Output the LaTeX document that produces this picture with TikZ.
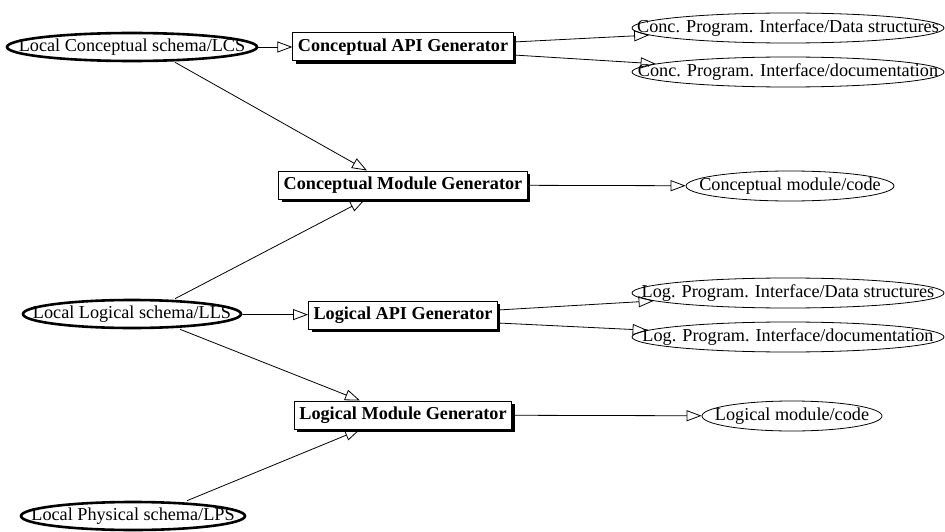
\documentclass[tikz,border=0pt]{standalone}
\usepackage{fontspec}
\setmainfont{Liberation Serif}
\usetikzlibrary{shapes.geometric,arrows.meta,shadows,calc}
\begin{document}
\begin{tikzpicture}[x=1pt,y=-1pt,
  font=\fontsize{18.2}{20}\selectfont,
  src/.style={ellipse, draw, line width=2.6pt, inner sep=0pt, minimum height=28pt},
  res/.style={ellipse, draw, line width=0.8pt, inner sep=0pt, minimum height=30pt},
  gen/.style={rectangle, draw, fill=white, line width=1pt, font=\fontsize{18.2}{20}\selectfont\bfseries,
    minimum height=28pt, inner xsep=5pt, inner ysep=0pt,
    drop shadow={shadow xshift=3pt, shadow yshift=-3pt, fill=black, opacity=1}},
  conn/.style={draw, line width=0.8pt, -{Triangle[open, length=15pt, width=11pt, line width=0.8pt]}}]
\useasboundingbox (0,0) rectangle (945,532);

% source schemas
\node[src, minimum width=250pt] (lcs) at (132,47) {\makebox[0pt]{Local Conceptual schema/LCS}};
\node[src, minimum width=218pt] (lls) at (132,314) {\makebox[0pt]{Local Logical schema/LLS}};
\node[src, minimum width=224pt] (lps) at (133,516) {\makebox[0pt]{Local Physical schema/LPS}};

% generators
\node[gen] (cag) at (403,47) {Conceptual API Generator};
\node[gen] (cmg) at (403,185) {Conceptual Module Generator};
\node[gen] (lag) at (403,315) {Logical API Generator};
\node[gen] (lmg) at (403,415) {Logical Module Generator};

% results
\node[res, minimum width=312pt] (cds) at (788,28) {\makebox[0pt]{Conc. Program. Interface/Data structures}};
\node[res, minimum width=312pt] (cdoc) at (788,72) {\makebox[0pt]{Conc. Program. Interface/documentation}};
\node[res, minimum width=208pt] (cmc) at (790,186) {\makebox[0pt]{Conceptual module/code}};
\node[res, minimum width=312pt] (lds) at (788,293) {\makebox[0pt]{Log. Program. Interface/Data structures}};
\node[res, minimum width=312pt] (ldoc) at (788,337) {\makebox[0pt]{Log. Program. Interface/documentation}};
\node[res, minimum width=180pt] (lmc) at (792,416) {\makebox[0pt]{Logical module/code}};

% connectors
\draw[conn] (lcs) -- (cag);
\draw[conn] ($(cag.east)+(0,-5)$) -- (cds);
\draw[conn] ($(cag.east)+(0,8)$) -- (cdoc);
\draw[conn] ($(lcs.south)+(43,0)$) -- ($(cmg.north)+(-36,0)$);
\draw[conn] ($(lls.north)+(43,0)$) -- ($(cmg.south)+(-38,0)$);
\draw[conn] (cmg) -- (cmc);
\draw[conn] (lls) -- (lag);
\draw[conn] ($(lag.east)+(0,-5)$) -- (lds);
\draw[conn] ($(lag.east)+(0,8)$) -- (ldoc);
\draw[conn] ($(lls.south)+(48,0)$) -- ($(lmg.north)+(-43,0)$);
\draw[conn] ($(lps.north)+(54,0)$) -- ($(lmg.south)+(-43,0)$);
\draw[conn] (lmg) -- (lmc);
\end{tikzpicture}
\end{document}
